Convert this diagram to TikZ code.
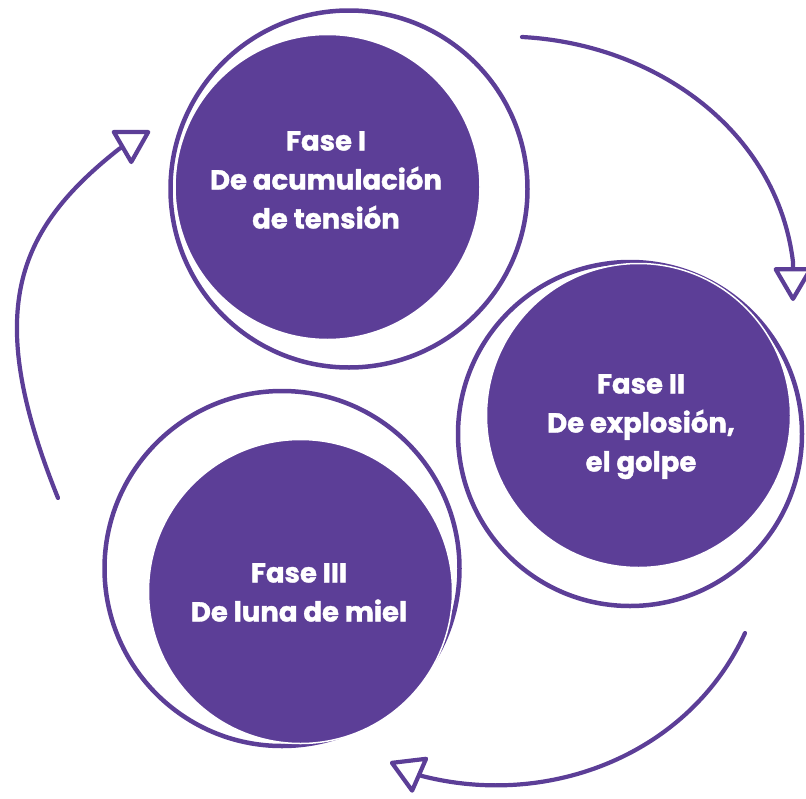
\documentclass[tikz,border=0pt]{standalone}
\usepackage{fontspec}
\newfontfamily\phasefont{Poppins Bold}[FakeBold=1.3]
\usetikzlibrary{arrows.meta}
\definecolor{fasepurple}{RGB}{92,62,151}
\begin{document}
\begin{tikzpicture}[x=1pt,y=-1pt,
  ring/.style={circle, draw=fasepurple, line width=4.5pt, minimum size=#1, inner sep=0pt},
  disc/.style={circle, fill=fasepurple, draw=white, line width=1.5pt, minimum size=#1, inner sep=0pt},
  phase/.style={text=white, font=\phasefont\fontsize{27.5}{39}\selectfont, align=center, anchor=north, inner sep=0pt},
  cyclearrow/.style={draw=fasepurple, line width=4.2pt, line cap=round,
    -{Triangle[open, length=36pt, width=41pt, line join=round]}}
]
\useasboundingbox (0,0) rectangle (806,798);
% rings
\node[ring=357] (r1) at (349,189) {};
\node[ring=344] (r2) at (630,434) {};
\node[ring=355] (r3) at (282,568.5) {};
% discs
\node[disc=305] (d1) at (327.5,187) {};
\node[disc=304] (d2) at (638.5,415.5) {};
\node[disc=304] (d3) at (300.5,591.5) {};
% texts
\node[phase] (t1) at (326,131) {Fase I\\De acumulación\\de tensión};
\node[phase] (t2) at (641,374) {Fase II\\De explosión,\\el golpe};
\node[phase] (t3) at (299,563) {Fase III\\De luna de miel};
% connectors
\coordinate (a1s) at (522,37);
\coordinate (a1m) at (793,262);
\coordinate (a1e) at (793,301);
\coordinate (a2s) at (745,633);
\coordinate (a2m) at (422,776);
\coordinate (a2e) at (390,762);
\coordinate (a3s) at (58,498);
\coordinate (a3m) at (119,149);
\coordinate (a3e) at (150,131);
\draw[cyclearrow] (a1s) .. controls (655,44) and (777,130) .. (a1m) -- (a1e);
\draw[cyclearrow] (a2s) .. controls (690,753) and (551,809) .. (a2m) -- (a2e);
\draw[cyclearrow] (a3s) .. controls (-17,312) and (15,231) .. (a3m) -- (a3e);
\end{tikzpicture}
\end{document}
